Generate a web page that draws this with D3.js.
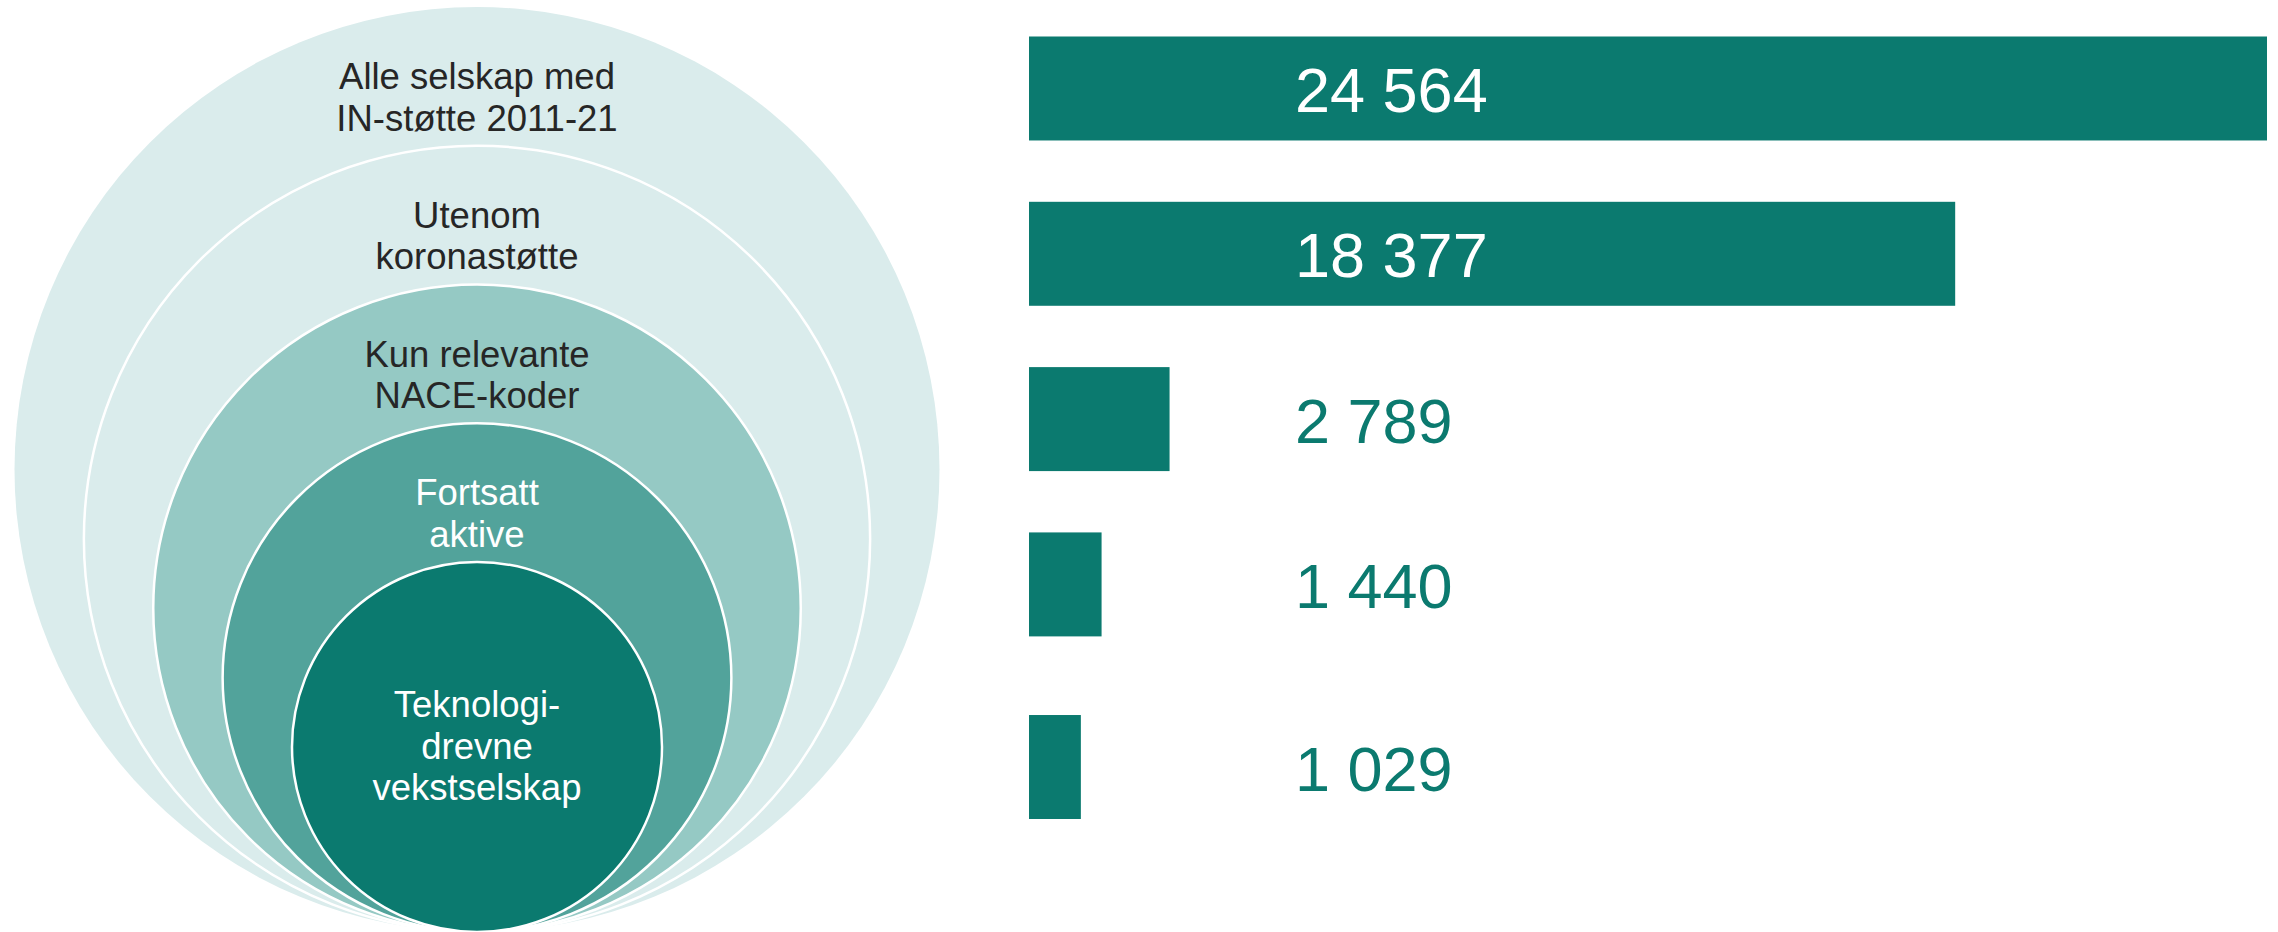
<!DOCTYPE html>
<html lang="no">
<head>
<meta charset="utf-8">
<title>Teknologidrevne vekstselskap</title>
<script src="https://cdn.jsdelivr.net/npm/d3@7"></script>
<style>
  body { margin: 0; background: #fff; }
  svg { display: block; font-family: "Liberation Sans", Arial, sans-serif; }
</style>
</head>
<body>
<div id="figur"></div>
<script>
// Kategorier (ytterst til innerst) og linjene i hver sirkeltekst
var kategorier = ["alle", "utenomKorona", "relevanteNace", "aktive", "teknologi"];
var etiketter = [
  ["Alle selskap med", "IN-støtte 2011-21"],
  ["Utenom", "koronastøtte"],
  ["Kun relevante", "NACE-koder"],
  ["Fortsatt", "aktive"],
  ["Teknologi-", "drevne", "vekstselskap"]
];
// Antall selskap i hvert steg
var antall = [24564, 18377, 2789, 1440, 1029];

var farger = ["#daecec", "#daecec", "#95c9c4", "#52a39b", "#0b7a6f"];
var tekstfarger = ["#262626", "#262626", "#262626", "#ffffff", "#ffffff"];
var stolpefarge = "#0b7a6f";

var bredde = 2278, hoyde = 932;

var svg = d3.select("#figur")
            .append("svg")
            .attr("width", bredde)
            .attr("height", hoyde);

// Sirklene ligger inni hverandre og møtes i bunnen
var cx = 477, bunn = 932;
var r = d3.scaleLinear()
          .domain([0, kategorier.length - 1])
          .range([462.5, 185]);

var rader = kategorier.map(function(k, i) {
  return { kat: k, linjer: etiketter[i], verdi: antall[i], i: i };
});

var sirkler = svg.append("g");
sirkler.selectAll("circle")
       .data(rader)
       .enter().append("circle")
       .attr("cx", cx)
       .attr("cy", function(d) { return bunn - r(d.i); })
       .attr("r", function(d) { return r(d.i); })
       .attr("fill", function(d) { return farger[d.i]; })
       .attr("stroke", function(d) { return d.i === 0 ? "none" : "#ffffff"; })
       .attr("stroke-width", 2.5);

// Teksten: øverst i ringen, eller midt i den innerste sirkelen
var linjeavstand = 41.5;
sirkler.selectAll("text")
       .data(rader)
       .enter().append("text")
       .attr("text-anchor", "middle")
       .attr("font-size", "36.5px")
       .attr("fill", function(d) { return tekstfarger[d.i]; })
       .each(function(d) {
         var sist = d.i === rader.length - 1;
         var y0 = sist ? bunn - r(d.i) - 30 : bunn - 2 * r(d.i) + 82;
         d3.select(this).selectAll("tspan")
           .data(d.linjer)
           .enter().append("tspan")
           .attr("x", cx)
           .attr("y", function(l, j) { return y0 + j * linjeavstand; })
           .text(function(l) { return l; });
       });

// Stolpene til høyre
var x = d3.scaleLinear()
          .domain([0, d3.max(antall)])
          .range([1029, 2267]);

var y = d3.scaleBand()
          .domain(kategorier)
          .range([36.5, 801.7])
          .paddingInner(0.371)
          .paddingOuter(0);

// litt ekstra luft før siste rad, som i originalen
var ekstra = 17.3;
function rad(d) { return y(d.kat) + (d.i === kategorier.length - 1 ? ekstra : 0); }

var norsk = d3.formatLocale({ decimal: ",", thousands: " ", grouping: [3], currency: ["", " kr"] });
var fmt = norsk.format(",d");

var stolper = svg.append("g");
stolper.selectAll("rect")
       .data(rader)
       .enter().append("rect")
       .attr("x", x(0))
       .attr("y", rad)
       .attr("width", function(d) { return x(d.verdi) - x(0); })
       .attr("height", y.bandwidth())
       .attr("fill", stolpefarge);

var tekstX = x(0) + 266;
stolper.selectAll("text")
       .data(rader)
       .enter().append("text")
       .attr("x", tekstX)
       .attr("y", function(d) { return rad(d) + y.bandwidth() / 2 + 23.5; })
       .attr("font-size", "63px")
       .attr("fill", function(d) { return x(d.verdi) > tekstX + 250 ? "#ffffff" : stolpefarge; })
       .text(function(d) { return fmt(d.verdi); });
</script>
</body>
</html>
